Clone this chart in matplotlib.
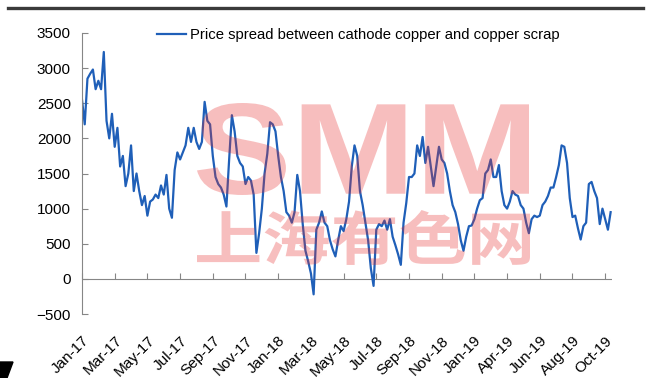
import matplotlib
matplotlib.use('Agg')
import matplotlib.pyplot as plt
from matplotlib.patches import Polygon, PathPatch
from matplotlib.lines import Line2D
from matplotlib.textpath import TextPath
from matplotlib.font_manager import FontProperties
from matplotlib.transforms import Affine2D

plt.rcParams['font.family'] = ['Liberation Sans', 'DejaVu Sans']

series_name = 'Price spread between cathode copper and copper scrap'

spread = [
    2550, 2200, 2850, 2920, 2980, 2700, 2820, 2700, 3230, 2250,
    2000, 2350, 1880, 2150, 1600, 1750, 1320, 1500, 1900, 1250,
    1500, 1250, 1050, 1180, 900, 1100, 1130, 1200, 1150, 1330,
    1200, 1480, 1000, 870, 1550, 1800, 1700, 1800, 1900, 2150,
    1950, 2150, 1950, 1850, 1950, 2520, 2250, 2200, 1750, 1450,
    1350, 1300, 1200, 1030, 1700, 2330, 2100, 1750, 1650, 1600,
    1350, 1450, 1400, 1200, 370, 650, 1000, 1500, 1780, 2230,
    2200, 2100, 1750, 1450, 1250, 950, 900, 800, 950, 1480,
    1250, 780, 400, 250, 80, -220, 700, 800, 960, 800,
    750, 550, 420, 320, 550, 750, 680, 850, 1100, 1600,
    1900, 1750, 1250, 1050, 800, 550, 150, -100, 700, 780,
    750, 830, 700, 850, 600, 480, 350, 200, 800, 1080,
    1450, 1450, 1500, 1900, 1750, 2020, 1650, 1880, 1600, 1320,
    1600, 1880, 1700, 1650, 1500, 1250, 1050, 950, 780, 550,
    400, 600, 750, 760, 850, 1000, 1120, 1150, 1500, 1550,
    1700, 1450, 1450, 1620, 1250, 1050, 1000, 1100, 1250, 1200,
    1180, 1050, 1000, 800, 650, 850, 900, 880, 900, 1050,
    1100, 1180, 1300, 1300, 1450, 1620, 1900, 1880, 1650, 1150,
    880, 900, 720, 560, 750, 800, 1350, 1380, 1250, 1150,
    780, 1000, 850, 700, 950,
]

tick_labels = ['Jan-17', 'Mar-17', 'May-17', 'Jul-17', 'Sep-17', 'Nov-17',
               'Jan-18', 'Mar-18', 'May-18', 'Jul-18', 'Sep-18', 'Nov-18',
               'Jan-19', 'Apr-19', 'Jun-19', 'Aug-19', 'Oct-19']
tick_step = 12
y_ticks = [-500, 0, 500, 1000, 1500, 2000, 2500, 3000, 3500]

W, H = 654, 378
fig = plt.figure(figsize=(W / 100, H / 100), dpi=100)
ax = fig.add_axes([82 / W, 1 - 314 / H, 530 / W, 281 / H])

xs = list(range(len(spread)))
ax.plot(xs, spread, color='#1f5fb8', lw=1.6, label=series_name, zorder=2,
        solid_joinstyle='round')

ax.set_xlim(0, len(spread) - 0.5)
ax.set_ylim(-500, 3500)
ax.set_yticks(y_ticks)
for s in ['top', 'right', 'bottom']:
    ax.spines[s].set_visible(False)
ax.spines['left'].set_color('#868686')
ax.spines['left'].set_linewidth(0.8)
ax.tick_params(axis='y', direction='in', length=4, color='#868686',
               labelsize=11, pad=8, labelcolor='black')

tpos = [i * tick_step for i in range(len(tick_labels))]
ax.set_xticks(tpos)
ax.set_xticklabels(tick_labels, rotation=45, ha='right', rotation_mode='anchor')
ax.tick_params(axis='x', length=0, labelsize=11, pad=14, labelcolor='black')

ax.axhline(0, color='#868686', lw=0.8, zorder=1)
sec = ax.secondary_xaxis(0.125)
sec.set_xticks(tpos)
sec.set_xticklabels([])
sec.tick_params(direction='in', length=4, color='#868686')
for s in ['top', 'bottom', 'left', 'right']:
    sec.spines[s].set_visible(False)

ax.legend(loc='upper left', bbox_to_anchor=(157 / W, 1 - 28 / H),
          bbox_transform=fig.transFigure, frameon=False, fontsize=10.7,
          handlelength=1.95, handletextpad=0.25, borderpad=0,
          borderaxespad=0)


# watermark, fitted into pixel boxes (x0, x1, y_top, y_bottom from image top)
def watermark(text, family, box):
    tp = TextPath((0, 0), text, size=10,
                  prop=FontProperties(family=family, weight='bold'))
    ext = tp.get_extents()
    x0, x1, yt, yb = box
    tr = (Affine2D().translate(-ext.x0, -ext.y0)
          .scale((x1 - x0) / ext.width, (yb - yt) / ext.height)
          .translate(x0, H - yb))
    patch = PathPatch(tp, transform=tr, facecolor='#e62a2a', edgecolor='none',
                      alpha=0.3, zorder=5)
    fig.add_artist(patch)


watermark('SMM', ['Liberation Sans', 'DejaVu Sans'], (197, 529, 103, 195))
watermark('上海有色网', ['Noto Sans CJK SC', 'DejaVu Sans'], (197, 530, 210, 265))

# decorations
fig.add_artist(Line2D([8 / W, 643 / W], [1 - 8 / H, 1 - 8 / H],
                      color='#3a3a3a', lw=2.4, transform=fig.transFigure))
fig.add_artist(Polygon([[0, 1 - 362 / H], [13 / W, 1 - 362 / H],
                        [7 / W, 0], [0, 0]], closed=True,
                       color='black', transform=fig.transFigure))

fig.savefig('out.png', dpi=100)
